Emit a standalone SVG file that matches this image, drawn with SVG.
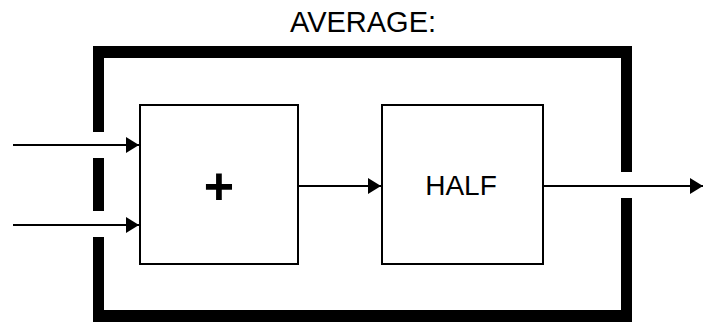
<svg xmlns="http://www.w3.org/2000/svg" width="704" height="325" viewBox="0 0 704 325">
  <style>
    .txt { font-family: "Liberation Sans", Arial, sans-serif; fill: #000; }
    .box { fill: #fff; stroke: #000; stroke-width: 2; }
    .wire { fill: none; stroke: #000; stroke-width: 2; }
    .frame { fill: #000; }
  </style>
  <defs>
    <marker id="arrow" markerUnits="userSpaceOnUse" markerWidth="14" markerHeight="18" refX="13" refY="8" orient="auto">
      <path d="M0,0 L13,8 L0,16 Z" fill="#000"/>
    </marker>
  </defs>
  <rect width="704" height="325" fill="#fff"/>
  <text class="txt" x="363" y="32" font-size="29" text-anchor="middle">AVERAGE:</text>
  <g id="frame">
    <rect class="frame" x="93" y="46" width="539" height="12"/>
    <rect class="frame" x="93" y="310" width="539" height="12"/>
    <rect class="frame" x="93" y="46" width="11" height="86"/>
    <rect class="frame" x="93" y="158" width="11" height="53"/>
    <rect class="frame" x="93" y="237" width="11" height="85"/>
    <rect class="frame" x="621" y="46" width="11" height="126"/>
    <rect class="frame" x="621" y="198" width="11" height="124"/>
  </g>
  <g id="connectors">
    <path class="wire" d="M13,145 H139" marker-end="url(#arrow)"/>
    <path class="wire" d="M13,225 H139" marker-end="url(#arrow)"/>
    <path class="wire" d="M298,186 H381" marker-end="url(#arrow)"/>
    <path class="wire" d="M543,186 H703" marker-end="url(#arrow)"/>
  </g>
  <g id="node-plus">
    <rect class="box" x="140" y="105" width="158" height="159"/>
    <text class="txt" x="219" y="204" font-size="52" font-weight="bold" text-anchor="middle">+</text>
  </g>
  <g id="node-half">
    <rect class="box" x="382" y="105" width="161" height="159"/>
    <text class="txt" x="461" y="195" font-size="28" text-anchor="middle">HALF</text>
  </g>
</svg>
